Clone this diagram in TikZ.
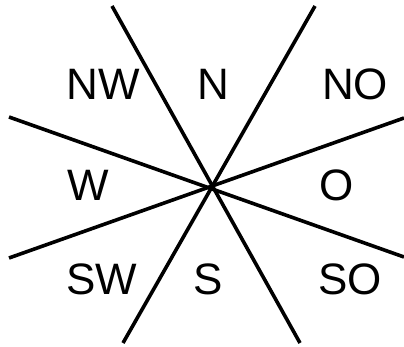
\documentclass[tikz,border=0pt]{standalone}
\usepackage{fontspec}
\setmainfont{Liberation Sans}
\begin{document}
\begin{tikzpicture}[x=1pt,y=-1pt,
  ray/.style={line width=3.6pt,black},
  dir/.style={font=\fontsize{44}{44}\selectfont,inner sep=0pt,anchor=center}]
\useasboundingbox[fill=white] (0,0) rectangle (404,347);
\coordinate (a1) at (112,6);   \coordinate (a2) at (300,343);
\coordinate (b1) at (315,6);   \coordinate (b2) at (123,343);
\coordinate (c1) at (9,117);   \coordinate (c2) at (404,257);
\coordinate (d1) at (9,258);   \coordinate (d2) at (404,118);
\draw[ray] (a1) -- (a2);
\draw[ray] (b1) -- (b2);
\draw[ray] (c1) -- (c2);
\draw[ray] (d1) -- (d2);
\node[dir] (nw) at (103,84) {NW};
\node[dir] (n)  at (213,84) {N};
\node[dir] (no) at (355,84) {NO};
\node[dir] (w)  at (88,185) {W};
\node[dir] (o)  at (337,185) {O};
\node[dir] (sw) at (102,279) {SW};
\node[dir] (s)  at (208,279) {S};
\node[dir] (so) at (350,279) {SO};
\end{tikzpicture}
\end{document}
